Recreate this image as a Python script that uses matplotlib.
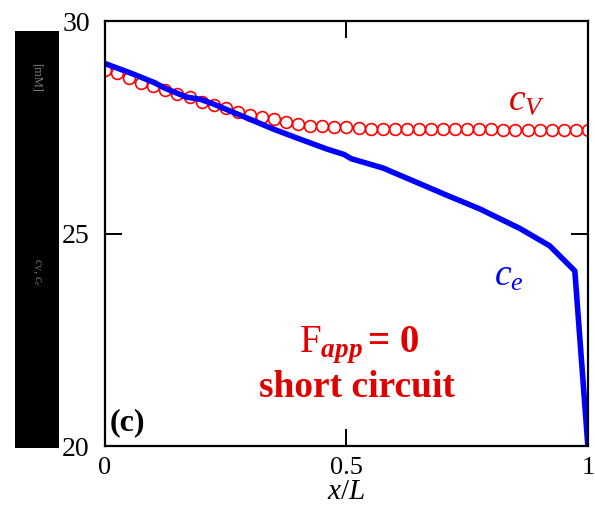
import matplotlib
matplotlib.use("Agg")
import matplotlib.pyplot as plt
from matplotlib.patches import Rectangle

# ---- data (panel c, short circuit) ----
x_ce = [0.0, 0.059, 0.10, 0.128, 0.169, 0.197, 0.224, 0.266, 0.30, 0.348,
        0.404, 0.459, 0.495, 0.51, 0.576, 0.638, 0.708, 0.776, 0.859, 0.921,
        0.973, 1.0]
c_e = [29.0, 28.75, 28.56, 28.40, 28.21, 28.16, 28.05, 27.85, 27.69, 27.46,
       27.22, 26.99, 26.86, 26.76, 26.54, 26.24, 25.90, 25.58, 25.12, 24.71,
       24.12, 20.0]

x_cv = [i * 0.025 for i in range(41)]
c_v = [28.85, 28.78, 28.66, 28.55, 28.48, 28.38, 28.28, 28.22, 28.10, 28.02,
       27.95, 27.87, 27.80, 27.75, 27.70, 27.63, 27.57, 27.54, 27.52, 27.51,
       27.50, 27.48, 27.47, 27.47, 27.46, 27.46, 27.46, 27.45, 27.45, 27.45,
       27.45, 27.45, 27.45, 27.44, 27.44, 27.44, 27.44, 27.43, 27.43, 27.43,
       27.43]

xticks = [0, 0.5, 1]
xticklabels = ["0", "0.5", "1"]
yticks = [20, 25, 30]
yticklabels = ["20", "25", "30"]

RED = "#e00000"
BLUE = "#0000ff"

plt.rcParams["font.family"] = ["Liberation Serif", "DejaVu Serif"]
plt.rcParams["mathtext.fontset"] = "custom"
plt.rcParams["mathtext.rm"] = "Liberation Serif"
plt.rcParams["mathtext.it"] = "Liberation Serif:italic"
plt.rcParams["mathtext.bf"] = "Liberation Serif:italic:bold"

fig = plt.figure(figsize=(5.95, 5.13), dpi=100)
ax = fig.add_axes([0.1765, 0.1306, 0.8115, 0.8284])

# the black strip on the left (a rasterised y-label in the original)
fig.add_artist(Rectangle((0.0252, 0.1267), 0.074, 0.813, transform=fig.transFigure,
                         facecolor="black", edgecolor="none", zorder=0))
fig.text(0.062, 0.85, "[mM]", rotation=-90, color="#777777", fontsize=9,
         ha="center", va="center")
fig.text(0.062, 0.47, "$c_V$, $c_e$", rotation=-90, color="#777777", fontsize=9,
         ha="center", va="center")

ax.plot(x_cv, c_v, "o", ms=8.5, mfc="none", mec="red", mew=1.2, clip_on=True)
ax.plot(x_ce, c_e, "-", color=BLUE, lw=4, solid_joinstyle="round")

ax.set_xlim(0, 1)
ax.set_ylim(20, 30)
ax.set_xticks(xticks)
ax.set_xticklabels(xticklabels)
ax.set_yticks(yticks)
ax.set_yticklabels(yticklabels)
ax.tick_params(direction="in", length=12, width=1.4, top=True, right=True,
               labelsize=20, pad=11)
ax.tick_params(axis="x", pad=8, labelsize=19)
for sp in ax.spines.values():
    sp.set_linewidth(1.6)

ax.set_xlabel("$x/L$", fontsize=21, labelpad=0)

ax.text(0.874, 28.14, "$c_V$", color=RED, fontsize=27, ha="center", va="center")
ax.text(0.836, 24.0, "$c_e$", color=BLUE, fontsize=27, ha="center", va="center")

ax.text(0.535, 22.21, r"F$_{\mathbf{app}}$", color=RED, fontsize=28,
        ha="right", va="baseline")
ax.text(0.545, 22.21, "= 0", color=RED, fontsize=28, fontweight="bold",
        ha="left", va="baseline")
ax.text(0.522, 21.15, "short circuit", color=RED, fontsize=27, fontweight="bold",
        ha="center", va="baseline")
ax.text(0.01, 20.2, "(c)", fontsize=23, fontweight="bold", ha="left", va="bottom")

fig.savefig("out.png", dpi=100)
